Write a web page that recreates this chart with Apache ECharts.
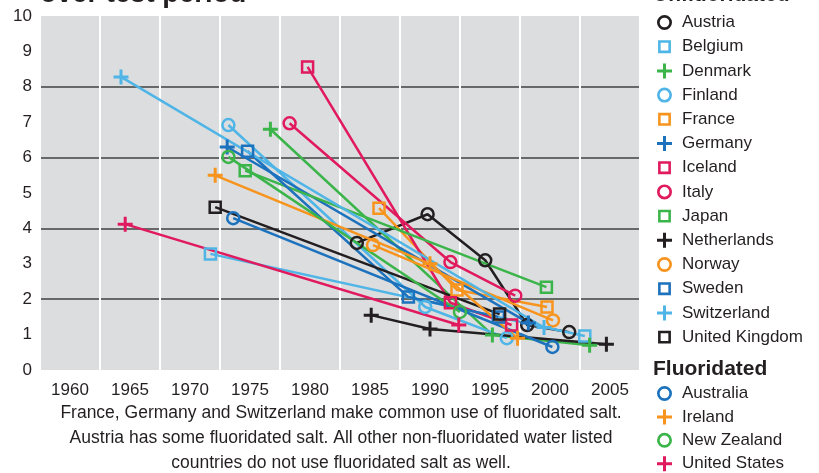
<!DOCTYPE html>
<html>
<head>
<meta charset="utf-8">
<script src="https://cdn.jsdelivr.net/npm/echarts@6/dist/echarts.min.js"></script>
<style>
  html, body { margin: 0; padding: 0; background: #fff; }
  #chart { width: 819px; height: 473px; }
</style>
</head>
<body>
<div id="chart"></div>
<script>
// year labels on the category axis (bands centred on these years)
var yearLabels = ['1960', '1965', '1970', '1975', '1980', '1985', '1990', '1995', '2000', '2005'];

// DMFT readings per country, [year, value]
var austria = [[1983.9, 3.59], [1989.8, 4.4], [1994.6, 3.1], [1998.1, 1.27], [2001.6, 1.07]];
var belgium = [[1971.7, 3.28], [2002.9, 0.96]];
var denmark = [[1976.7, 6.8], [1995.2, 0.99], [2003.3, 0.7]];
var finland = [[1973.2, 6.92], [1989.6, 1.78], [1996.4, 0.9]];
var france = [[1985.75, 4.57], [1992.25, 2.26], [1999.75, 1.78]];
var germany = [[1973.1, 6.3], [1998.2, 1.33]];
var iceland = [[1979.8, 8.56], [1991.7, 1.9], [1996.8, 1.27]];
var italy = [[1978.3, 6.97], [1991.7, 3.05], [1997.1, 2.1]];
var japan = [[1974.6, 5.63], [1999.7, 2.34]];
var netherlands = [[1985.1, 1.55], [1990, 1.16], [2004.7, 0.73]];
var norway = [[1985.25, 3.53], [2000.25, 1.4]];
var sweden = [[1974.8, 6.18], [1988.2, 2.06], [1995.7, 1.5]];
var switzerland = [[1964.25, 8.28], [1999.5, 1.2]];
var unitedKingdom = [[1972.1, 4.6], [1995.8, 1.58]];
var australia = [[1973.6, 4.29], [2000.2, 0.65]];
var ireland = [[1972.1, 5.5], [1990, 3.0], [1997.3, 0.9]];
var newZealand = [[1973.2, 6.02], [1992.5, 1.64]];
var unitedStates = [[1964.6, 4.12], [1992.4, 1.27]];

var captionLines = [
  'France, Germany and Switzerland make common use of fluoridated salt.',
  'Austria has some fluoridated salt. All other non-fluoridated water listed',
  'countries do not use fluoridated salt as well.'
];

var BLACK = '#231f20', LBLUE = '#4fb5e6', GREEN = '#3bb54a', ORANGE = '#f7941d', BLUE = '#1c72bd', PINK = '#e01a5c';
var FONT = "'Liberation Sans', Arial, sans-serif";

var PLUS = 'path://M4,0H6V4H10V6H6V10H4V6H0V4H4Z';
var RING = 'path://M7,0A7,7 0 1 1 7,14A7,7 0 1 1 7,0Z M7,2.5A4.5,4.5 0 1 0 7,11.5A4.5,4.5 0 1 0 7,2.5Z';
var SQUARE = 'path://M0,0L0.01,0Z M14,14L13.99,14Z M1,1H13V13H1Z M3.4,3.4V10.6H10.6V3.4Z';

var unfl = [
  ['Austria', austria, BLACK, 'o'],
  ['Belgium', belgium, LBLUE, 's'],
  ['Denmark', denmark, GREEN, '+'],
  ['Finland', finland, LBLUE, 'o'],
  ['France', france, ORANGE, 's'],
  ['Germany', germany, BLUE, '+'],
  ['Iceland', iceland, PINK, 's'],
  ['Italy', italy, PINK, 'o'],
  ['Japan', japan, GREEN, 's'],
  ['Netherlands', netherlands, BLACK, '+'],
  ['Norway', norway, ORANGE, 'o'],
  ['Sweden', sweden, BLUE, 's'],
  ['Switzerland', switzerland, LBLUE, '+'],
  ['United Kingdom', unitedKingdom, BLACK, 's']
];
var fl = [
  ['Australia', australia, BLUE, 'o'],
  ['Ireland', ireland, ORANGE, '+'],
  ['New Zealand', newZealand, GREEN, 'o'],
  ['United States', unitedStates, PINK, '+']
];

function makeSeries(c) {
  var s = {
    name: c[0], type: 'line', xAxisIndex: 1, yAxisIndex: 0,
    data: c[1], animation: false,
    lineStyle: { color: c[2], width: 2.5 },
    emphasis: { disabled: true }
  };
  if (c[3] == '+') {
    s.symbol = PLUS; s.symbolSize = 15;
    s.itemStyle = { color: c[2] };
  } else {
    s.symbol = c[3] == 'o' ? 'circle' : 'rect';
    s.symbolSize = c[3] == 'o' ? 12 : 11;
    s.itemStyle = { color: 'rgba(0,0,0,0)', borderColor: c[2], borderWidth: 2.5 };
  }
  return s;
}
function legendItem(c) {
  return {
    name: c[0],
    icon: c[3] == '+' ? PLUS : (c[3] == 'o' ? RING : SQUARE),
    itemStyle: { color: c[2], borderWidth: 0 }
  };
}

var series = unfl.concat(fl).map(makeSeries);
var legendText = { color: BLACK, fontSize: 17, fontFamily: FONT, lineHeight: 16, padding: [0, 0, 0, 5] };

var chart = echarts.init(document.getElementById('chart'));
chart.setOption({
  backgroundColor: '#fff',
  animation: false,
  grid: { left: 40, right: 179, top: 16, bottom: 103, show: true, backgroundColor: '#dcdddf', borderWidth: 0 },
  xAxis: [
    {
      type: 'category', data: yearLabels, boundaryGap: true,
      axisLine: { show: false }, axisTick: { show: false },
      axisLabel: { interval: 0, color: BLACK, fontSize: 17, fontFamily: FONT, margin: 12 },
      splitLine: { show: true, interval: 0, lineStyle: { color: '#fff', width: 2 } }
    },
    { type: 'value', min: 1957.5, max: 2007.5, show: false }
  ],
  yAxis: [
    {
      type: 'value', min: 0, max: 10, interval: 1,
      axisLine: { show: false }, axisTick: { show: false },
      axisLabel: { color: BLACK, fontSize: 17, fontFamily: FONT, margin: 8 },
      splitLine: { show: false }
    },
    {
      type: 'value', min: 0, max: 10, interval: 2, position: 'left',
      axisLine: { show: false }, axisTick: { show: false }, axisLabel: { show: false },
      splitLine: { show: true, showMinLine: false, showMaxLine: false, lineStyle: { color: '#404040', width: 1.5 } }
    }
  ],
  legend: [
    {
      orient: 'vertical', left: 657, top: 14, height: 340, padding: 0, itemWidth: 15, itemHeight: 15, itemGap: 7.2,
      selectedMode: false, textStyle: legendText,
      data: unfl.map(legendItem)
    },
    {
      orient: 'vertical', left: 657, top: 385, height: 95, padding: 0, itemWidth: 15, itemHeight: 15, itemGap: 6.4,
      selectedMode: false, textStyle: legendText,
      data: fl.map(legendItem)
    }
  ],
  graphic: [
    { type: 'text', left: 40, top: -20, style: { text: 'over test period', fill: BLACK, fontSize: 27.5, fontWeight: 'bold', fontFamily: FONT } },
    { type: 'text', left: 653, top: -15, style: { text: 'Unfluoridated', fill: BLACK, fontSize: 21, fontWeight: 'bold', fontFamily: FONT } },
    { type: 'text', left: 653, top: 359, style: { text: 'Fluoridated', fill: BLACK, fontSize: 21, fontWeight: 'bold', fontFamily: FONT } },
    {
      type: 'text', x: 341, y: 401,
      style: { text: captionLines.join('\n'), fill: BLACK, fontSize: 17.5, fontFamily: FONT, lineHeight: 25, align: 'center', verticalAlign: 'top' }
    }
  ],
  series: series
});
</script>
</body>
</html>
